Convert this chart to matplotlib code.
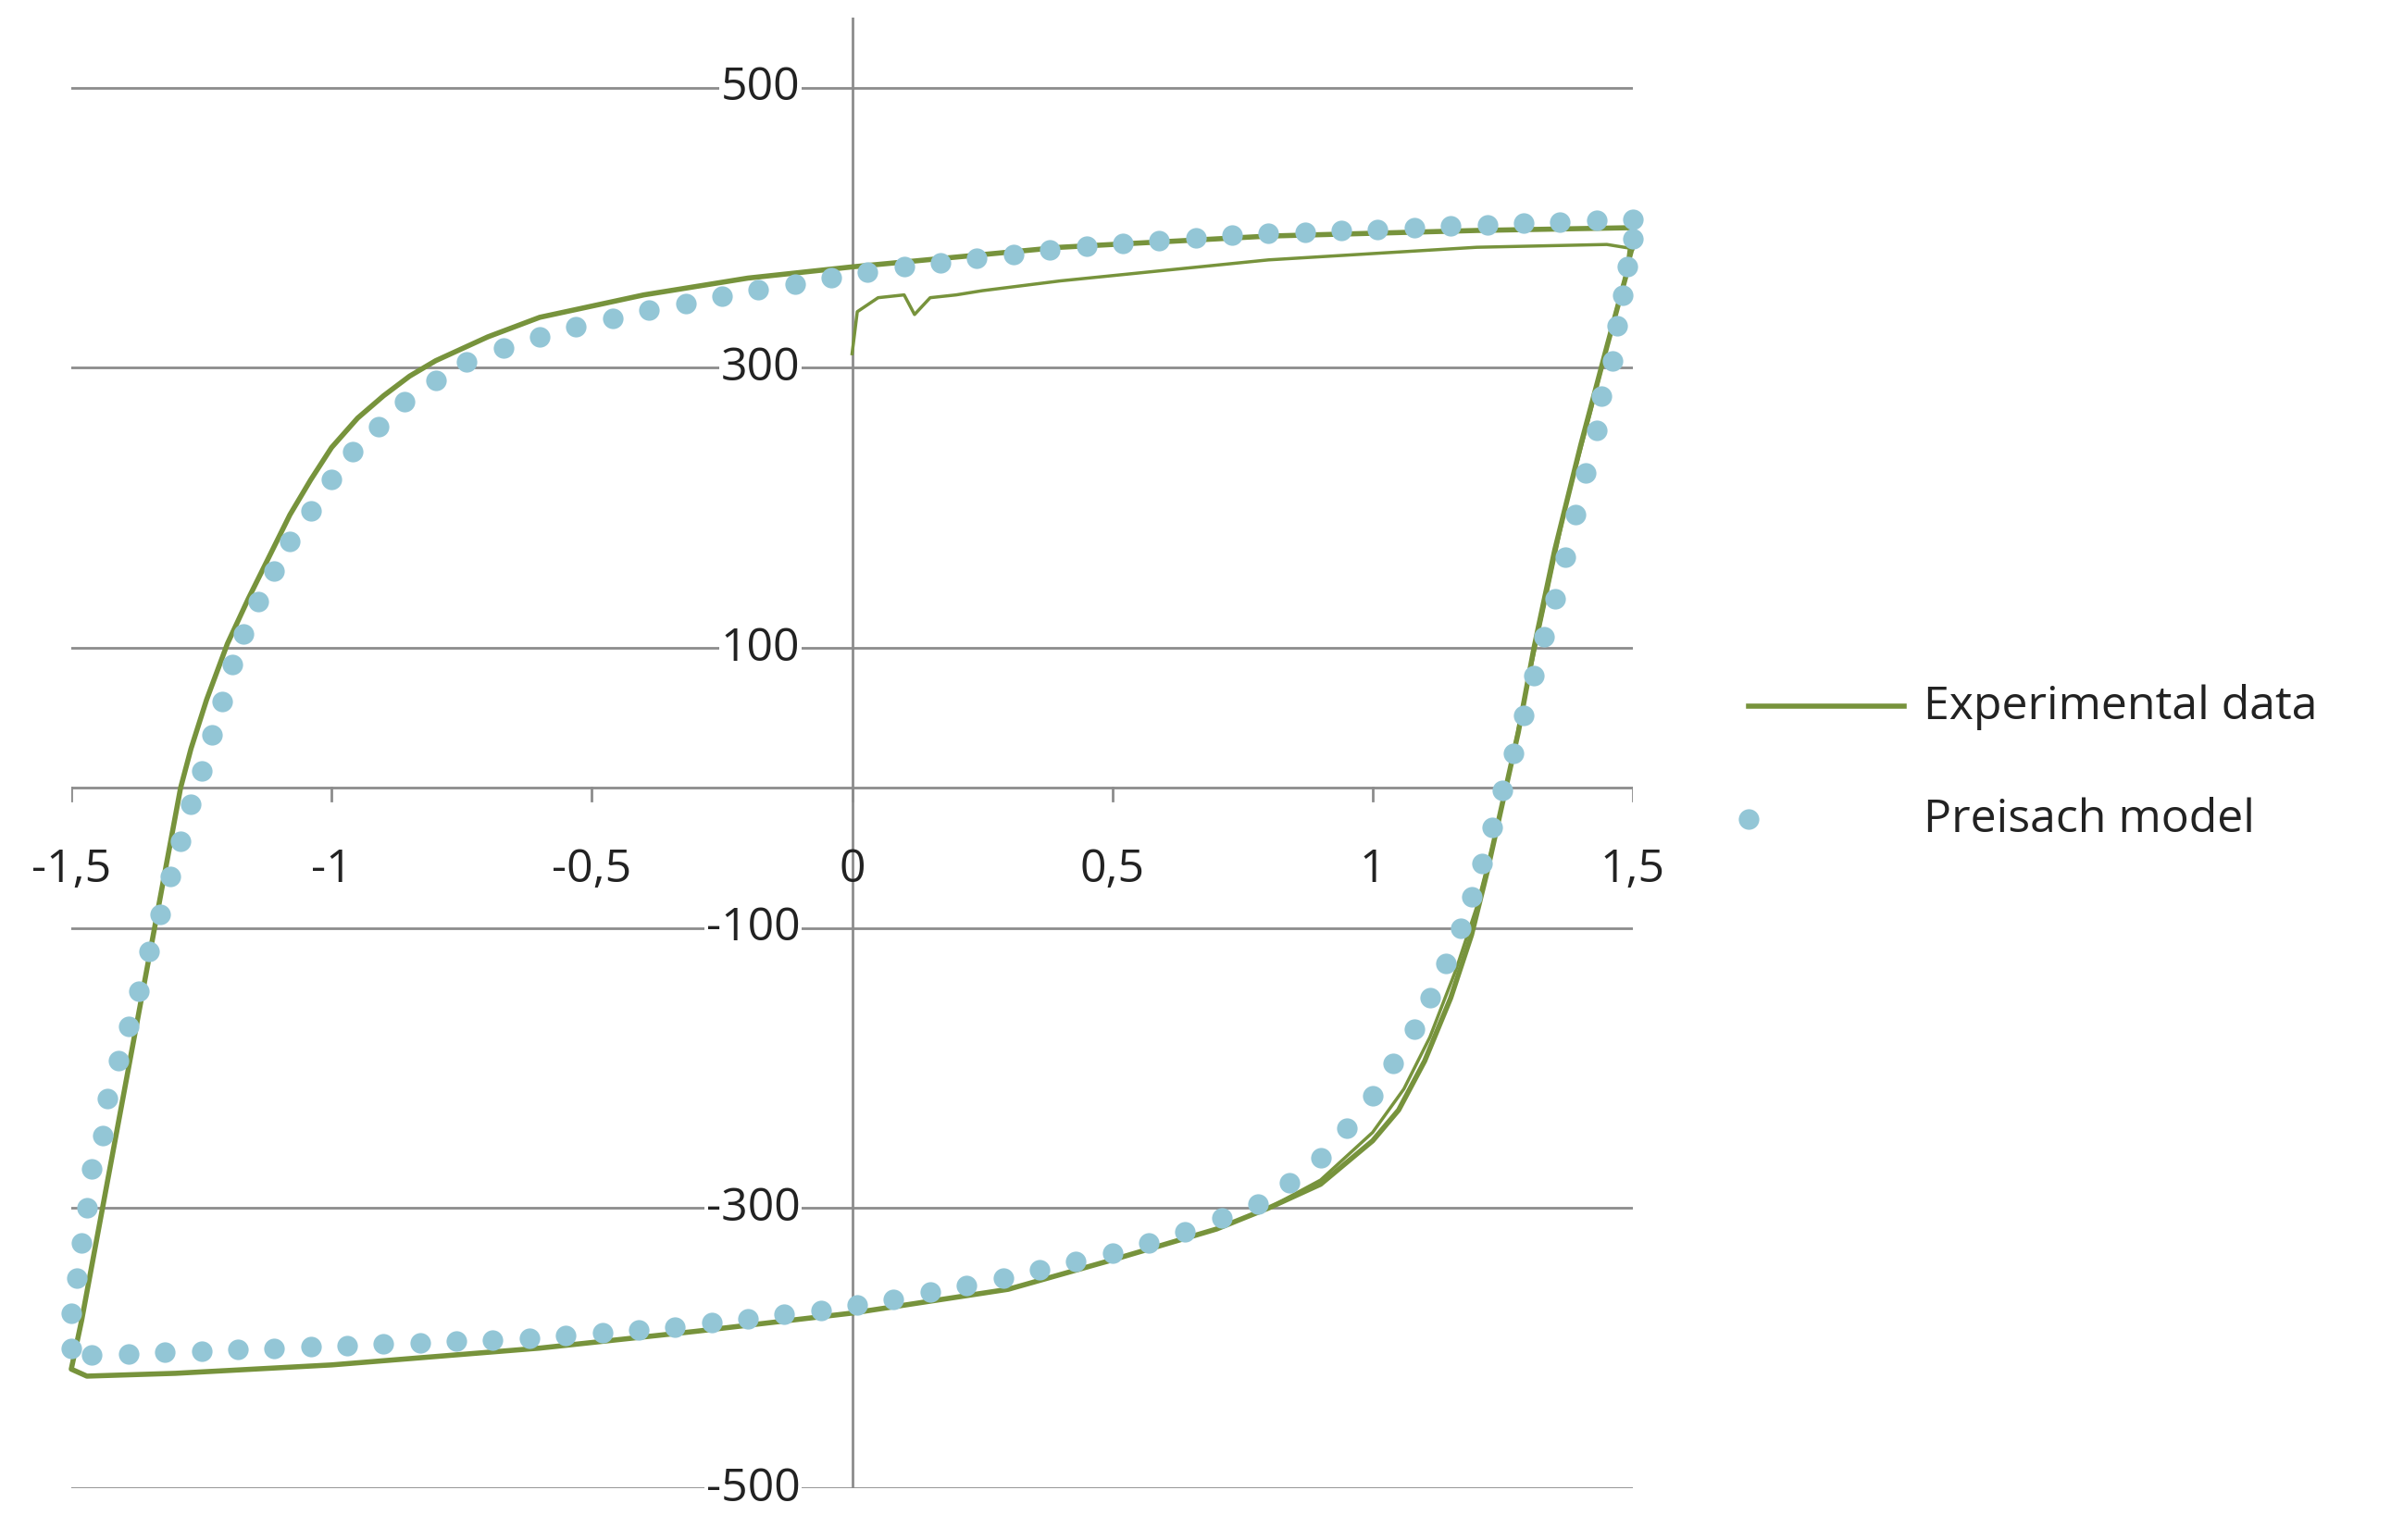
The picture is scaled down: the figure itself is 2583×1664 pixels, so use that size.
import matplotlib
matplotlib.use("Agg")
import matplotlib.pyplot as plt
from matplotlib.lines import Line2D

# Preisach model, upper branch (descending)
model_x = [1.50,1.43,1.36,1.29,1.22,1.15,1.08,1.01,0.94,0.87,0.80,0.73,0.66,0.59,0.52,0.45,0.38,0.31,0.24,0.17,0.10,0.03,
           -0.04,-0.11,-0.18,-0.25,-0.32,-0.39,-0.46,-0.53,-0.60,-0.67,-0.74,-0.80,-0.86,-0.91,-0.96,-1.00,-1.04,-1.08,
           -1.11,-1.14,-1.17,-1.19,-1.21,-1.23,-1.25,-1.27,-1.29,-1.31,-1.33,-1.35,-1.37,-1.39,-1.41,-1.43,-1.44,-1.46,
           -1.47,-1.48,-1.49,-1.50,-1.50]
model_y = [406,405,404,403,402,401,400,399,398,397,396,395,393,391,389,387,384,381,378,375,372,368,
           364,360,356,351,346,341,335,329,322,314,304,291,276,258,240,220,198,176,
           155,133,110,88,62,38,12,-12,-38,-63,-90,-117,-145,-170,-195,-222,-248,-272,
           -300,-325,-350,-375,-400]
# Preisach model, lower branch (ascending)
model2_x = [-1.46,-1.39,-1.32,-1.25,-1.18,-1.11,-1.04,-0.97,-0.90,-0.83,-0.76,-0.69,-0.62,-0.55,-0.48,-0.41,-0.34,-0.27,
            -0.20,-0.13,-0.06,0.01,0.08,0.15,0.22,0.29,0.36,0.43,0.50,0.57,0.64,0.71,0.78,0.84,0.90,0.95,1.00,1.04,
            1.08,1.11,1.14,1.17,1.19,1.21,1.23,1.25,1.27,1.29,1.31,1.33,1.35,1.37,1.39,1.41,1.43,1.44,1.46,1.47,1.48,
            1.49,1.50]
model2_y = [-405,-404,-403,-402,-401,-400,-399,-398,-397,-396,-395,-394,-393,-391,-389,-387,-385,-382,
            -379,-376,-373,-369,-365,-360,-355,-350,-344,-338,-332,-325,-317,-307,-297,-282,-264,-243,-220,-197,
            -172,-150,-125,-100,-78,-54,-28,-2,25,52,80,108,135,165,195,225,255,280,305,330,352,
            372,392]

# Experimental loop
exp_x = [1.5,1.2,0.8,0.4,0.0,-0.2,-0.4,-0.6,-0.7,-0.8,-0.85,-0.9,-0.95,-1.0,-1.04,-1.08,-1.12,-1.16,-1.2,-1.24,-1.27,
         -1.29,-1.34,-1.39,-1.44,-1.48,-1.5,-1.47,-1.3,-1.0,-0.6,-0.3,0.0,0.3,0.5,0.7,0.8,0.9,1.0,1.05,1.1,1.15,1.19,
         1.22,1.25,1.28,1.31,1.35,1.4,1.45,1.49,1.5]
exp_y = [400,398,394,386,372,364,352,336,322,305,294,280,264,243,220,195,165,135,103,63,28,
         0,-100,-200,-300,-380,-415,-420,-418,-412,-400,-388,-375,-358,-337,-315,-300,-283,-252,-230,-195,-150,-105,
         -60,-10,40,100,170,245,315,370,400]
exp2_x = [0.8,0.9,1.0,1.06,1.11,1.16,1.2,1.235,1.265,1.295,1.33,1.37,1.42,1.46,1.5]
exp2_y = [-300,-280,-246,-215,-178,-130,-85,-35,15,70,130,200,270,330,385]
init_x = [0.0,0.01,0.05,0.1,0.12,0.15,0.2,0.25,0.4,0.8,1.2,1.45,1.5]
init_y = [310,340,350,352,338,350,352,355,362,377,386,388,385]

xticks = [-1.5,-1,-0.5,0,0.5,1,1.5]
xlabels = ["-1,5","-1","-0,5","0","0,5","1","1,5"]
yticks = [500,300,100,-100,-300,-500]
ylabels = ["500","300","100","-100","-300","-500"]

green = "#77933C"
blue = "#93C6D6"
grey = "#8c8c8c"
plt.rcParams['font.family'] = ['Open Sans', 'DejaVu Sans']
fs = 36

fig = plt.figure(figsize=(25.83, 16.65), dpi=100)
ax = fig.add_axes([77/2583, 1-1609/1665, (1764-77)/2583, (1609-20)/1665])
ax.set_xlim(-1.5, 1.5)
ax.set_ylim(-500, 550)
ax.axis('off')
for y in yticks:
    ax.plot([-1.5, 1.5], [y, y], color=grey, lw=2, zorder=1)
ax.plot([-1.5, 1.5], [0, 0], color=grey, lw=2, zorder=1)
ax.plot([0, 0], [-500, 550], color=grey, lw=2, zorder=1)
for x in xticks:
    ax.plot([x, x], [0, -9], color=grey, lw=2, zorder=1)
for x, l in zip(xticks, xlabels):
    ax.text(x, -58, l, ha='center', va='center', fontsize=fs, color='#222222')
for y, l in zip(yticks, ylabels):
    ax.text(-0.1, y, l, ha='right', va='center', fontsize=fs, color='#222222',
            bbox=dict(facecolor='white', edgecolor='none', pad=1))

ax.plot(exp_x, exp_y, color=green, lw=4, zorder=2, clip_on=False)
ax.plot(exp2_x, exp2_y, color=green, lw=2.5, zorder=2, clip_on=False)
ax.plot(init_x, init_y, color=green, lw=2.5, zorder=2, clip_on=False)
ax.plot(model_x, model_y, 'o', color=blue, ms=16, mec='none', zorder=3, clip_on=False)
ax.plot(model2_x, model2_y, 'o', color=blue, ms=16, mec='none', zorder=3, clip_on=False)

fig.add_artist(Line2D([1889/2583, 2057/2583], [1-764/1665]*2, color=green, lw=4))
fig.add_artist(Line2D([1889/2583], [1-886/1665], marker='o', color=blue, ms=16, mec='none', lw=0))
fig.text(2078/2583, 1-764/1665, "Experimental data", fontsize=fs, va='center', ha='left', color='#222222')
fig.text(2078/2583, 1-886/1665, "Preisach model", fontsize=fs, va='center', ha='left', color='#222222')

fig.savefig("out.png", dpi=100)
